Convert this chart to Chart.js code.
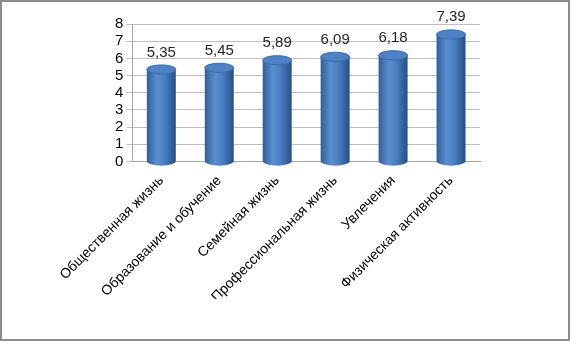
<!DOCTYPE html>
<html lang="ru">

<head>
  <meta charset="UTF-8">
  <title>Диаграмма</title>
  <style>
    body { margin: 0; background: #fff; }
    .rama {
      width: 570px; height: 341px; box-sizing: border-box;
      border: 2px solid #8c8c8c; background: #fff;
    }
    .rama canvas { display: block; }
  </style>
</head>

<body>
  <div class="rama">
    <canvas id="grafik" width="566" height="337"></canvas>
  </div>

  <script src="https://cdn.jsdelivr.net/npm/chart.js"></script>
  <script>
    // данные диаграммы
    var kategorii = ["Общественная жизнь", "Образование и обучение", "Семейная жизнь",
      "Профессиональная жизнь", "Увлечения", "Физическая активность"];
    var znacheniya = [5.35, 5.45, 5.89, 6.09, 6.18, 7.39];
    var podpisi = ["5,35", "5,45", "5,89", "6,09", "6,18", "7,39"];

    var shrift = "'Liberation Sans', 'DejaVu Sans', sans-serif";

    // цилиндры: градиент по ширине столбика + эллипсы сверху и снизу
    var cilindry = {
      id: 'cilindry',
      afterDatasetsDraw: function (chart) {
        var ctx = chart.ctx;
        var meta = chart.getDatasetMeta(0);
        meta.data.forEach(function (bar, i) {
          var p = bar.getProps(['x', 'y', 'base', 'width'], true);
          var l = p.x - p.width / 2, r = p.x + p.width / 2;
          var ry = p.width * 0.16;
          var g = ctx.createLinearGradient(l, 0, r, 0);
          g.addColorStop(0, '#2f5f9c');
          g.addColorStop(0.35, '#5b8ed0');
          g.addColorStop(0.6, '#4a7fc2');
          g.addColorStop(1, '#254f86');
          ctx.save();
          // тело
          ctx.fillStyle = g;
          ctx.beginPath();
          ctx.moveTo(l, p.y);
          ctx.lineTo(l, p.base);
          ctx.ellipse(p.x, p.base, p.width / 2, ry, 0, Math.PI, 0, true);
          ctx.lineTo(r, p.y);
          ctx.closePath();
          ctx.fill();
          // крышка
          ctx.fillStyle = '#4f82c4';
          ctx.strokeStyle = '#3c6aa8';
          ctx.lineWidth = 1;
          ctx.beginPath();
          ctx.ellipse(p.x, p.y, p.width / 2, ry, 0, 0, Math.PI * 2);
          ctx.fill();
          ctx.stroke();
          // подпись значения
          ctx.fillStyle = '#262626';
          ctx.font = '15px ' + shrift;
          ctx.textAlign = 'center';
          ctx.textBaseline = 'bottom';
          ctx.fillText(podpisi[i], p.x, p.y - ry - 5);
          ctx.restore();
        });
      }
    };

    var grafik = new Chart(document.getElementById('grafik'), {
      type: 'bar',
      data: {
        labels: kategorii,
        datasets: [{
          data: znacheniya,
          backgroundColor: 'rgba(0,0,0,0)',
          borderWidth: 0,
          barPercentage: 0.5,
          categoryPercentage: 1
        }]
      },
      options: {
        responsive: false,
        animation: false,
        layout: { padding: { left: 110, right: 88, top: 22, bottom: 40 } },
        plugins: {
          legend: { display: false },
          tooltip: { enabled: false }
        },
        scales: {
          x: {
            grid: { display: false },
            border: { color: '#a6a6a6' },
            ticks: {
              minRotation: 45, maxRotation: 45,
              color: '#000',
              font: { family: shrift, size: 14 }
            }
          },
          y: {
            min: 0, max: 8,
            grid: { color: '#bfbfbf', tickLength: 6 },
            border: { color: '#a6a6a6' },
            ticks: {
              stepSize: 1,
              autoSkip: false,
              color: '#000',
              padding: 3,
              font: { family: shrift, size: 15 }
            }
          }
        }
      },
      plugins: [cilindry]
    });
  </script>
</body>

</html>
